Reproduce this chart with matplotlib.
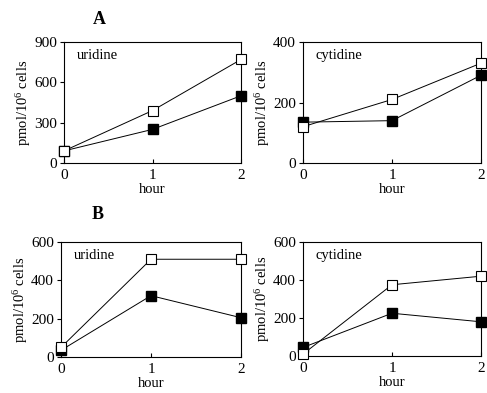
import matplotlib
matplotlib.use("Agg")
import matplotlib.pyplot as plt

plt.rcParams['font.family'] = ['Liberation Serif', 'DejaVu Serif']
plt.rcParams['mathtext.fontset'] = 'custom'
plt.rcParams['mathtext.rm'] = 'Liberation Serif'
plt.rcParams['mathtext.it'] = 'Liberation Serif:italic'
plt.rcParams['mathtext.bf'] = 'Liberation Serif:bold'

hours = [0, 1, 2]
a_uri_open = [90, 390, 770]
a_uri_filled = [90, 250, 500]
a_cyt_open = [120, 210, 330]
a_cyt_filled = [135, 140, 290]
b_uri_open = [50, 510, 510]
b_uri_filled = [35, 320, 205]
b_cyt_open = [10, 375, 420]
b_cyt_filled = [45, 225, 180]

W, H = 487, 393
fig = plt.figure(figsize=(W/100, H/100), dpi=100)

def ax_at(l, t, r, b):
    return fig.add_axes([l/W, 1 - b/H, (r-l)/W, (b-t)/H])

panels = [
    ((64, 42, 241, 163), a_uri_open, a_uri_filled, 'uridine', [0, 300, 600, 900], 900),
    ((303, 42, 481, 163), a_cyt_open, a_cyt_filled, 'cytidine', [0, 200, 400], 400),
    ((61, 242, 241, 357), b_uri_open, b_uri_filled, 'uridine', [0, 200, 400, 600], 600),
    ((303, 242, 481, 356), b_cyt_open, b_cyt_filled, 'cytidine', [0, 200, 400, 600], 600),
]

for (box, op, fi, name, yt, ymax) in panels:
    ax = ax_at(*box)
    ax.plot(hours, fi, color='black', lw=0.7, marker='s', ms=6.5,
            mfc='black', mec='black', zorder=3, clip_on=False)
    ax.plot(hours, op, color='black', lw=0.7, marker='s', ms=6.5,
            mfc='white', mec='black', mew=0.8, zorder=4, clip_on=False)
    ax.set_xlim(0, 2)
    ax.set_ylim(0, ymax)
    ax.set_xticks(hours)
    ax.set_yticks(yt)
    ax.tick_params(axis='x', direction='in', length=3, width=0.8, labelsize=11, pad=4)
    ax.tick_params(axis='y', direction='out', length=3, width=0.8, labelsize=11, pad=2)
    for s in ax.spines.values():
        s.set_linewidth(0.8)
    ax.set_xlabel('hour', fontsize=10.5, labelpad=1)
    ax.set_ylabel(r'pmol/10$^6$ cells', fontsize=10.5, labelpad=1)
    ax.text(0.07, 0.94, name, transform=ax.transAxes, fontsize=10.5,
            va='top', ha='left')

fig.text(93/W, 1 - 20/H, 'A', fontsize=13, fontweight='bold', va='center', ha='left')
fig.text(92/W, 1 - 215/H, 'B', fontsize=13, fontweight='bold', va='center', ha='left')

fig.savefig('out.png', dpi=100)
